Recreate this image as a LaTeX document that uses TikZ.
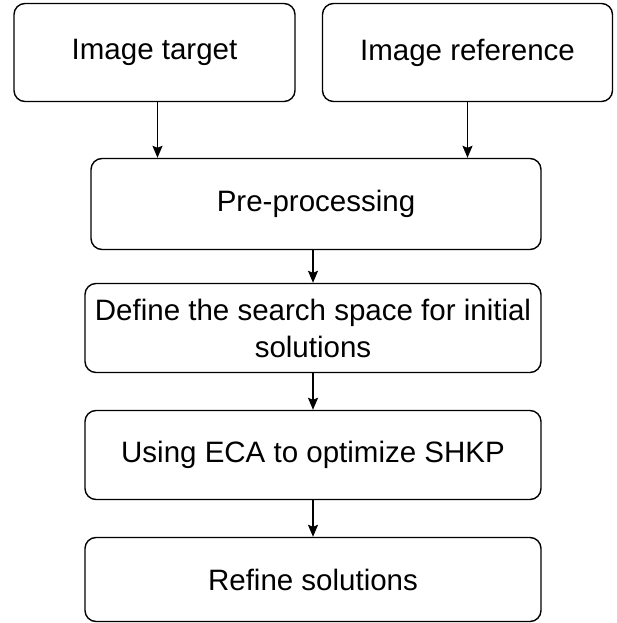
\documentclass[tikz,border=0pt]{standalone}
\usepackage{fontspec}
\setmainfont{Liberation Sans}
\usetikzlibrary{arrows.meta, positioning, calc}

\tikzset{
  stepbox/.style={draw, line width=1.4pt, rounded corners=11pt, align=center,
    font=\fontsize{29.5}{37}\selectfont, inner sep=2pt},
  flow/.style={-{Stealth[length=12pt, width=10pt, inset=2pt]}, line width=1.4pt}
}

\begin{document}
\begin{tikzpicture}[x=1pt, y=-1pt]
  \useasboundingbox (0,0) rectangle (617,623);

  % Define the input boxes
  \node[stepbox, minimum width=281pt, minimum height=98pt] (target) at (154.5,52.5) {Image target};
  \node[stepbox, minimum width=290pt, minimum height=98pt] (reference) at (467.5,52.5) {Image reference};

  % Define the processing steps
  \node[stepbox, minimum width=450pt, minimum height=91pt] (pre) at (316,204) {Pre-processing};
  \node[stepbox, minimum width=456pt, minimum height=89pt] (space) at (313,328) {Define the search space for initial\\solutions};
  \node[stepbox, minimum width=456pt, minimum height=89pt] (eca) at (313,455) {Using ECA to optimize SHKP};
  \node[stepbox, minimum width=456pt, minimum height=84pt] (refine) at (313,579.5) {Refine solutions};

  % Draw the arrows
  \draw[flow] ($(target.south)+(3,0)$) -- ($(target.south |- pre.north)+(3,0)$);
  \draw[flow] (reference.south) -- (reference.south |- pre.north);
  \draw[flow] (pre.south -| space.north) -- (space.north);
  \draw[flow] (space.south) -- (eca.north);
  \draw[flow] (eca.south) -- (refine.north);
\end{tikzpicture}
\end{document}
